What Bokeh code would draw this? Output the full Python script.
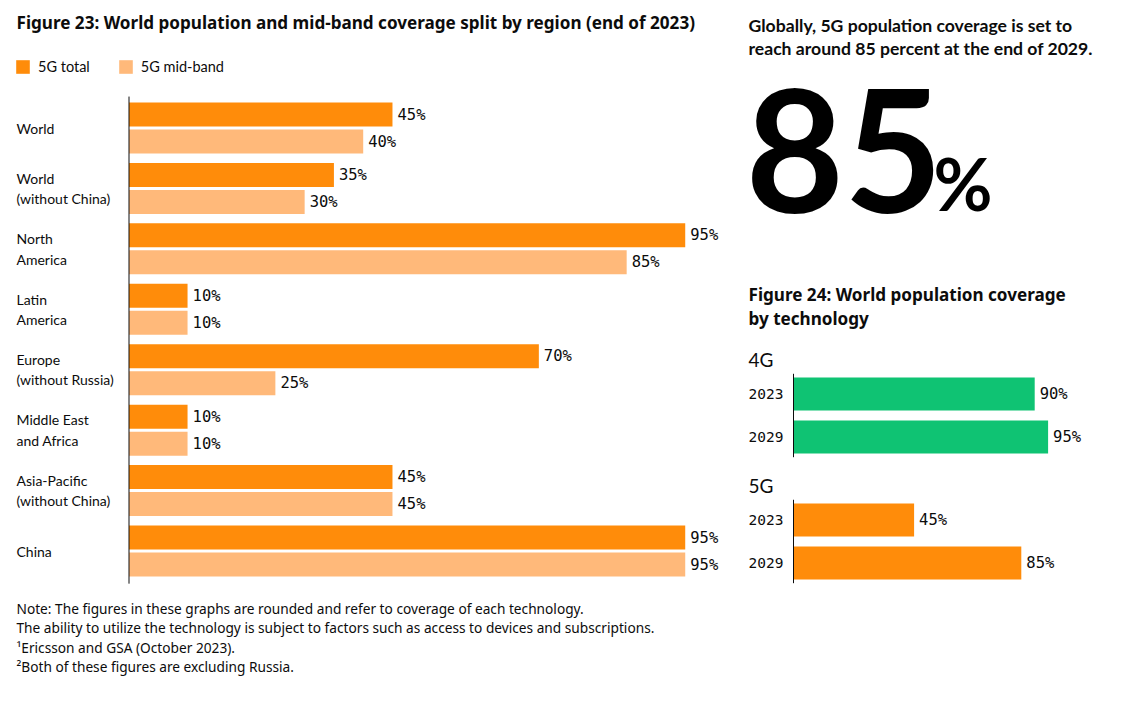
from bokeh.plotting import figure
from bokeh.layouts import row
from bokeh.models import Range1d, Legend, LegendItem
from bokeh.core.properties import value
from bokeh.embed import file_html
from bokeh.resources import INLINE

# ---------------- data ----------------
regions = ["World", "World\n(without China)", "North\nAmerica", "Latin\nAmerica",
           "Europe\n(without Russia)", "Middle East\nand Africa",
           "Asia-Pacific\n(without China)", "China"]
total_5g = [45, 35, 95, 10, 70, 10, 45, 95]
midband_5g = [40, 30, 85, 10, 25, 10, 45, 95]
series_names = ["5G total", "5G mid-band"]

technologies = ["4G", "5G"]
years = ["2023", "2029"]
coverage_4g = [90, 95]
coverage_5g = [45, 85]

title_23 = "Figure 23: World population and mid-band coverage split by region (end of 2023)"
notes = [
    "Note: The figures in these graphs are rounded and refer to coverage of each technology.",
    "The ability to utilize the technology is subject to factors such as access to devices and subscriptions.",
    "\u00b9Ericsson and GSA (October 2023).",
    "\u00b2Both of these figures are excluding Russia.",
]
headline = ["Globally, 5G population coverage is set to",
            "reach around 85 percent at the end of 2029."]
title_24 = ["Figure 24: World population coverage", "by technology"]

# ---------------- style ----------------
ORANGE = "#FF8C0A"
LIGHT = "#FFB97A"
GREEN = "#0FC373"
INK = "#0C0C0C"
SANS = value("Lato")
WIDE = value("Noto Sans")
MONO = value("DejaVu Sans Mono")
H = 716

# ---------------- left figure (Figure 23) ----------------
W1 = 740
X0 = 128.5       # pixel of 0 %
K1 = 5.855       # pixels per %
Y0 = 127.5       # pixel centre of first region
PITCH = 60.43    # pixels per region
xr1 = Range1d(-X0 / K1, (W1 - X0) / K1)
yr1 = Range1d(start=(H - Y0) / PITCH, end=-Y0 / PITCH)

p1 = figure(width=W1, height=H, x_range=xr1, y_range=yr1, output_backend="svg",
            toolbar_location=None, x_axis_location=None, y_axis_location=None,
            min_border=0, outline_line_color=None)
p1.grid.visible = False

idx = list(range(len(regions)))
off = 13.5 / PITCH
bh = 24 / PITCH
y_tot = [i - off for i in idx]
y_mid = [i + off for i in idx]
r_tot = p1.hbar(y=y_tot, left=0, right=total_5g, height=bh, fill_color=ORANGE, line_color=None)
r_mid = p1.hbar(y=y_mid, left=0, right=midband_5g, height=bh, fill_color=LIGHT, line_color=None)
p1.segment(x0=[0], x1=[0], y0=[idx[0] - 0.52], y1=[idx[-1] + 0.54], line_color=INK, line_width=1)

p1.text(x=[xr1.start] * len(regions), y=idx, text=regions, x_offset=16,
        text_baseline="middle", text_align="left", text_font=SANS,
        text_font_size="14px", text_color=INK, text_line_height=1.2)

p1.text(x=total_5g, y=y_tot, text=[f"{v}%" for v in total_5g], x_offset=5,
        text_baseline="middle", text_font=MONO, text_font_size="15.5px", text_color=INK)
p1.text(x=midband_5g, y=y_mid, text=[f"{v}%" for v in midband_5g], x_offset=5,
        text_baseline="middle", text_font=MONO, text_font_size="15.5px", text_color=INK)

p1.text(x=[xr1.start], y=[yr1.end], text=[title_23], x_offset=16, y_offset=22,
        text_baseline="middle", text_font=WIDE, text_font_style="bold",
        text_font_size="17.1px", text_color=INK)

p1.text(x=[xr1.start] * len(notes), y=[yr1.end] * len(notes), text=notes,
        x_offset=16, y_offset=[608 + 19.3 * i for i in range(len(notes))],
        text_baseline="middle", text_font=WIDE, text_font_size="13.7px", text_color=INK)

legend = Legend(items=[LegendItem(label=series_names[0], renderers=[r_tot]),
                       LegendItem(label=series_names[1], renderers=[r_mid])],
                orientation="horizontal", location=(14, 640),
                glyph_width=17, glyph_height=17, label_standoff=7, spacing=27,
                padding=0, margin=0, border_line_color=None, background_fill_alpha=0,
                label_text_font="Lato", label_text_font_size="14.5px",
                label_text_color=INK, label_height=20)
p1.add_layout(legend)

# ---------------- right figure (big number + Figure 24) ----------------
W2 = 400
X0R = 53
K2 = 2.68
ROW0 = 393.5
ROWPX = 43
GROUP_GAP = 0.93
xr2 = Range1d(-X0R / K2, (W2 - X0R) / K2)
yr2 = Range1d(start=(H - ROW0) / ROWPX, end=-ROW0 / ROWPX)

p2 = figure(width=W2, height=H, x_range=xr2, y_range=yr2, output_backend="svg",
            toolbar_location=None, x_axis_location=None, y_axis_location=None,
            min_border=0, outline_line_color=None)
p2.grid.visible = False

p2.text(x=[xr2.start] * len(headline), y=[yr2.end] * len(headline), text=headline,
        x_offset=8, y_offset=[25 + 23 * i for i in range(len(headline))],
        text_baseline="middle", text_font=SANS, text_font_style="bold",
        text_font_size="17.6px", text_color=INK)

big = f"{coverage_5g[-1]}"
p2.text(x=[xr2.start], y=[yr2.end], text=[big], x_offset=5, y_offset=150,
        text_baseline="alphabetic", text_font=SANS, text_font_style="bold",
        text_font_size="170px", text_color="#000000")
p2.text(x=[xr2.start], y=[yr2.end], text=["%"], x_offset=193, y_offset=182,
        text_baseline="alphabetic", text_font=SANS, text_font_style="bold",
        text_font_size="72px", text_color="#000000")

p2.text(x=[xr2.start] * len(title_24), y=[yr2.end] * len(title_24), text=title_24,
        x_offset=8, y_offset=[294 + 24 * i for i in range(len(title_24))],
        text_baseline="middle", text_font=WIDE, text_font_style="bold",
        text_font_size="17.1px", text_color=INK)

tech_values = [coverage_4g, coverage_5g]
tech_colors = [GREEN, ORANGE]
for g, tech in enumerate(technologies):
    pos = [g * (len(years) + GROUP_GAP) + j for j in range(len(years))]
    vals = tech_values[g]
    p2.hbar(y=pos, left=0, right=vals, height=33 / ROWPX, fill_color=tech_colors[g], line_color=None)
    p2.segment(x0=[0], x1=[0], y0=[pos[0] - 0.47], y1=[pos[-1] + 0.47], line_color=INK, line_width=1)
    p2.text(x=[xr2.start], y=[pos[0]], text=[tech], x_offset=8, y_offset=-34.5,
            text_baseline="middle", text_font=SANS, text_font_size="19px", text_color=INK)
    p2.text(x=[xr2.start] * len(years), y=pos, text=years, x_offset=8,
            text_baseline="middle", text_font=MONO, text_font_size="14.5px", text_color=INK)
    p2.text(x=vals, y=pos, text=[f"{v}%" for v in vals], x_offset=5,
            text_baseline="middle", text_font=MONO, text_font_size="15.5px", text_color=INK)

layout = row(p1, p2)
open("out.html", "w").write(file_html(layout, INLINE))
